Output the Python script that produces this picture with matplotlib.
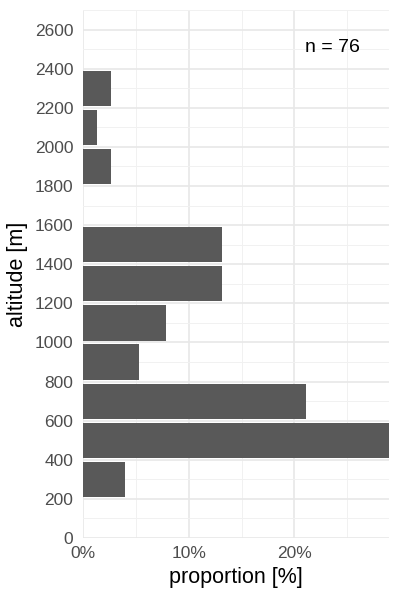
import numpy as np
import matplotlib.pyplot as plt
from matplotlib.ticker import MultipleLocator, FuncFormatter

plt.rcParams["font.family"] = ["Liberation Sans", "DejaVu Sans"]

# altitude bins (lower edge, m) and counts per bin
bin_lo = [200, 400, 600, 800, 1000, 1200, 1400, 1600, 1800, 2000, 2200]
counts = [3, 22, 16, 4, 6, 10, 10, 0, 2, 1, 2]
n_total = 76
bin_w = 200

prop = np.array(counts) / n_total * 100
centers = np.array(bin_lo) + bin_w / 2

fig = plt.figure(figsize=(4, 6), dpi=100)
ax = fig.add_axes([0.2075, 0.1033, 0.765, 0.88])

ax.barh(centers, prop, height=bin_w * 0.9, color="#595959", zorder=3)

ax.set_xlim(0, prop.max())
ax.set_ylim(0, 2700)
ax.yaxis.set_major_locator(MultipleLocator(200))
ax.yaxis.set_minor_locator(MultipleLocator(100))
ax.xaxis.set_major_locator(MultipleLocator(10))
ax.xaxis.set_minor_locator(MultipleLocator(5))
ax.xaxis.set_major_formatter(FuncFormatter(lambda v, p: f"{v:.0f}%"))

ax.grid(which="major", color="#E8E8E8", lw=1.2, zorder=0)
ax.grid(which="minor", color="#F1F1F1", lw=0.7, zorder=0)
for s in ax.spines.values():
    s.set_visible(False)
ax.tick_params(which="both", length=0, labelsize=12.5, labelcolor="#4D4D4D")
ax.tick_params(axis="y", pad=7)
ax.tick_params(axis="x", pad=6)

ax.set_xlabel("proportion [%]", fontsize=15.5, labelpad=4)
ax.set_ylabel("altitude [m]", fontsize=15.5, labelpad=5)

ax.text(23.6, 2510, f"n = {n_total}", fontsize=14, ha="center", va="center")

fig.savefig("out.png", dpi=100)
